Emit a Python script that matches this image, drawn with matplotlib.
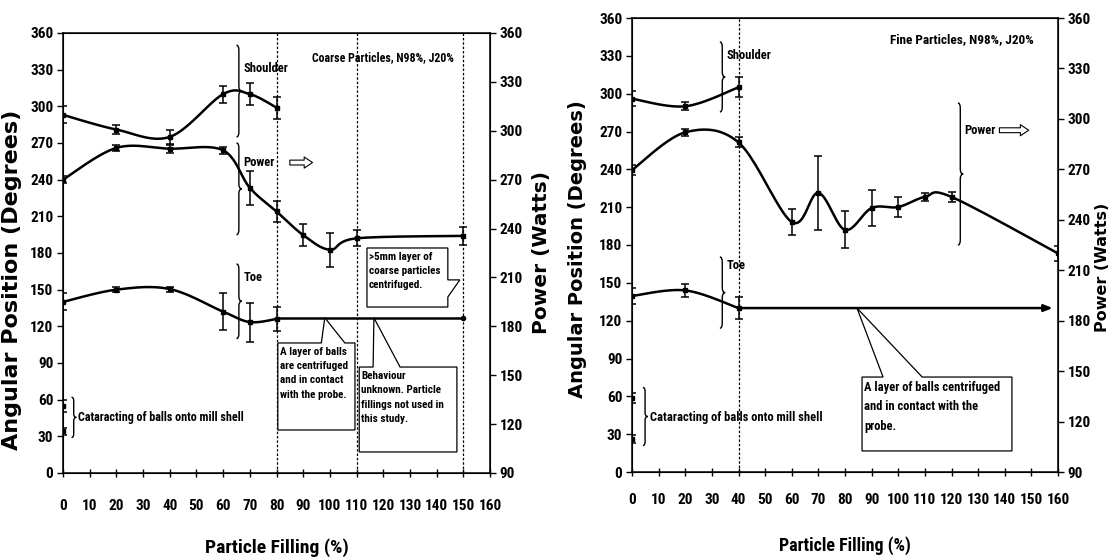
import numpy as np
import matplotlib
matplotlib.use("Agg")
import matplotlib.pyplot as plt
from matplotlib.path import Path
from matplotlib.patches import PathPatch, Polygon

# --- coarse particles (left panel) ---
coarse_sh_x = [0, 20, 40, 60, 70, 80]
coarse_sh_y = [293, 281, 275, 310, 310, 299]
coarse_sh_err = [7, 4, 6, 7, 9, 9]

coarse_pw_x = [0, 20, 40, 60, 70, 80, 90, 100, 110, 150]
coarse_pw_y = [270, 289.5, 289, 288, 265, 250.5, 236, 227, 234, 235.5]   # Watts
coarse_pw_err = [2, 2, 2.5, 2, 10.5, 6.5, 6.5, 10.5, 5, 5.5]

coarse_toe_x = [0, 20, 40, 60, 70, 80]
coarse_toe_y = [140, 150, 150.5, 132, 123.5, 126]
coarse_toe_err = [7, 2, 2, 15, 16, 10]
coarse_layer_x = [80, 150]
coarse_layer_y = [127, 127]

coarse_cat_x = [0, 0]
coarse_cat_y = [55, 34]
coarse_cat_err = [5, 3]

# --- fine particles (right panel) ---
fine_sh_x = [0, 20, 40]
fine_sh_y = [296, 290, 305]
fine_sh_err = [6, 3, 8]

fine_pw_x = [0, 20, 40, 60, 70, 80, 90, 100, 110, 120, 160]
fine_pw_y = [269.6, 292, 286, 238.7, 256, 234, 247, 247.6, 253.6, 253.6, 220]   # Watts
fine_pw_err = [3, 2, 3, 8, 22, 11, 10.5, 6, 2.5, 3, 4.7]

fine_toe_x = [0, 20, 40]
fine_toe_y = [139.6, 144, 130]
fine_toe_err = [6, 5, 9]
fine_layer_x = [40, 158]
fine_layer_y = [130, 130]

fine_cat_x = [0, 0]
fine_cat_y = [58.5, 26]
fine_cat_err = [4, 3]

xticks = np.arange(0, 161, 10)
deg_ticks = np.arange(0, 361, 30)
watt_ticks = np.arange(90, 361, 30)

NARROW = ['Roboto Condensed', 'PT Sans Narrow', 'Liberation Sans']
WIDE = ['DejaVu Sans']


def smooth(x, y, n=24):
    """Excel style smoothed line: Catmull-Rom segments as cubic Beziers."""
    pts = np.column_stack([x, y]).astype(float)
    p = np.vstack([pts[0], pts, pts[-1]])
    segs = []
    t = np.linspace(0, 1, n)[:, None]
    for i in range(1, len(p) - 2):
        p0, p1, p2, p3 = p[i - 1], p[i], p[i + 1], p[i + 2]
        c1 = p1 + (p2 - p0) / 6
        c2 = p2 - (p3 - p1) / 6
        segs.append((1 - t) ** 3 * p1 + 3 * (1 - t) ** 2 * t * c1
                    + 3 * (1 - t) * t ** 2 * c2 + t ** 3 * p2)
    xy = np.vstack(segs)
    return xy[:, 0], xy[:, 1]


def series(ax, x, y, err, line=True):
    if line and len(x) > 1:
        sx, sy = smooth(x, y)
        ax.plot(sx, sy, color='black', lw=1.8, zorder=3)
    ax.errorbar(x, y, yerr=err, fmt='s', ms=3.5, color='black', ecolor='black',
                elinewidth=1.1, capsize=3, capthick=1.1, zorder=4)


def brace(ax, x, y0, y1, w=2.0, c=4.0):
    ym = (y0 + y1) / 2
    xm = x + w * 0.45
    verts = [(x, y1), (xm, y1), (xm, y1 - c), (xm, ym + c), (xm, ym), (x + w, ym),
             (xm, ym), (xm, ym - c), (xm, y0 + c), (xm, y0), (x, y0)]
    codes = [Path.MOVETO, Path.CURVE3, Path.CURVE3, Path.LINETO, Path.CURVE3, Path.CURVE3,
             Path.CURVE3, Path.CURVE3, Path.LINETO, Path.CURVE3, Path.CURVE3]
    ax.add_patch(PathPatch(Path(verts, codes), fill=False, lw=1.0, color='black', zorder=5))


def callout(ax, box, base, apex, side, lines, size, spacing):
    x0, x1, y0, y1 = box
    if side == 'top':
        verts = [(x0, y1), (base[0], y1), apex, (base[1], y1), (x1, y1), (x1, y0), (x0, y0)]
    else:  # right
        verts = [(x0, y1), (x1, y1), (x1, base[0]), apex, (x1, base[1]), (x1, y0), (x0, y0)]
    ax.add_patch(Polygon(verts, closed=True, fc='white', ec='black', lw=0.9, zorder=6))
    ax.text(x0 + 0.8, y1 - 3, "\n".join(lines), ha='left', va='top', fontsize=size,
            family=NARROW, fontweight='bold', linespacing=spacing, zorder=7)


def setup(ax, xpad):
    ax.set_xlim(0, 160)
    ax.set_ylim(0, 360)
    ax.set_xticks(xticks)
    ax.set_yticks(deg_ticks)
    ax.tick_params(axis='x', direction='inout', length=6, width=1, pad=xpad)
    ax.tick_params(axis='y', direction='out', length=4, width=1, pad=3)
    for s in ax.spines.values():
        s.set_linewidth(1.1)
    for lab in ax.get_xticklabels() + ax.get_yticklabels():
        lab.set_family(NARROW)
        lab.set_fontweight('bold')
        lab.set_fontsize(11)
    axp = ax.twinx()
    axp.set_ylim(90, 360)
    axp.set_yticks(watt_ticks)
    axp.tick_params(axis='y', direction='out', length=4, width=1, pad=3)
    for lab in axp.get_yticklabels():
        lab.set_family(NARROW)
        lab.set_fontweight('bold')
        lab.set_fontsize(11)
    return axp


def note(ax, x, y, s, size=9, **kw):
    ax.text(x, y, s, family=NARROW, fontweight='bold', fontsize=size, zorder=7, **kw)


def hollow_arrow(ax, x0, x1, y):
    ax.annotate('', xy=(x1, y), xytext=(x0, y),
                arrowprops=dict(arrowstyle='simple,head_length=0.6,head_width=0.8,tail_width=0.35',
                                fc='white', ec='black', lw=0.8, shrinkA=0, shrinkB=0))


fig = plt.figure(figsize=(11.13, 5.57), dpi=100)

# ---------------- left: coarse particles ----------------
ax1 = fig.add_axes([63 / 1113, 1 - 473 / 557, 427 / 1113, 440 / 557])
ax1p = setup(ax1, 16)

for xv in [80, 110, 150]:
    ax1.axvline(xv, color='black', lw=0.9, ls=(0, (2, 1.5)), zorder=2)

series(ax1, coarse_sh_x, coarse_sh_y, coarse_sh_err)
series(ax1p, coarse_pw_x, coarse_pw_y, coarse_pw_err)
series(ax1, coarse_toe_x, coarse_toe_y, coarse_toe_err)
ax1.plot(coarse_layer_x, coarse_layer_y, color='black', lw=1.8, marker='o', ms=3,
         markevery=[1], zorder=3)
series(ax1, coarse_cat_x, coarse_cat_y, coarse_cat_err, line=False)

brace(ax1, 65, 275, 350)
note(ax1, 67.5, 331, "Shoulder", va='center')
brace(ax1, 65, 195, 270)
note(ax1, 67.5, 254, "Power", va='center')
hollow_arrow(ax1, 85, 93.5, 254)
brace(ax1, 65, 110, 171)
note(ax1, 67.5, 160, "Toe", va='center')
brace(ax1, 3.2, 29, 62, w=1.8, c=3)
note(ax1, 5.6, 45.5, "Cataracting of balls onto mill shell", size=8.7, va='center')
note(ax1, 120, 340, "Coarse Particles, N98%, J20%", size=8.6, ha='center', va='center')

callout(ax1, (113.9, 144.2, 135.8, 184.1), (158, 144), (148.7, 158), 'right',
        [">5mm layer of", "coarse particles", "centrifuged."], 8, 1.55)
callout(ax1, (80.5, 109.4, 35.2, 106.4), (96.8, 105.6), (98.1, 127), 'top',
        ["A layer of balls", "are centrifuged", "and in contact", "with the probe."], 8, 1.55)
callout(ax1, (111, 147.6, 17.2, 86.7), (116.2, 126.3), (116.5, 127), 'top',
        ["Behaviour", "unknown. Particle", "fillings not used in", "this study."], 8, 1.55)

ax1.set_xlabel("Particle Filling (%)", family=NARROW, fontweight='bold', fontsize=14)
ax1.xaxis.set_label_coords(0.5, -0.148)
ax1.set_ylabel("Angular Position (Degrees)", family=WIDE, fontweight='bold', fontsize=16)
ax1.yaxis.set_label_coords(-0.097, 0.44)
ax1p.set_ylabel("Power (Watts)", family=WIDE, fontweight='bold', fontsize=14.5)
ax1p.yaxis.set_label_coords(1.098, 0.5)

# ---------------- right: fine particles ----------------
ax2 = fig.add_axes([632 / 1113, 1 - 472 / 557, 426 / 1113, 454 / 557])
ax2p = setup(ax2, 12)

ax2.axvline(40, color='black', lw=0.9, ls=(0, (2, 1.5)), zorder=2)

series(ax2, fine_sh_x, fine_sh_y, fine_sh_err)
series(ax2p, fine_pw_x, fine_pw_y, fine_pw_err)
series(ax2, fine_toe_x, fine_toe_y, fine_toe_err)
ax2.annotate('', xy=(fine_layer_x[1], fine_layer_y[1]), xytext=(fine_layer_x[0], fine_layer_y[0]),
             arrowprops=dict(arrowstyle='-|>,head_length=0.5,head_width=0.2', color='black',
                             lw=1.8, shrinkA=0, shrinkB=0), zorder=3)
series(ax2, fine_cat_x, fine_cat_y, fine_cat_err, line=False)

brace(ax2, 33, 285.5, 341)
note(ax2, 35.5, 330.5, "Shoulder", va='center')
brace(ax2, 33, 114, 170.5)
note(ax2, 35.5, 164, "Toe", va='center')
brace(ax2, 122.4, 180, 292.6)
note(ax2, 124.8, 271, "Power", va='center')
hollow_arrow(ax2, 138, 149, 271)
brace(ax2, 4.1, 21, 67, w=1.8, c=3)
note(ax2, 6.6, 43, "Cataracting of balls onto mill shell", size=9, va='center')
note(ax2, 124, 342.5, "Fine Particles, N98%, J20%", size=9.5, ha='center', va='center')

callout(ax2, (86.4, 142.7, 16.7, 75.3), (94.3, 109), (84.5, 130), 'top',
        ["A layer of balls centrifuged", "and in contact with the", "probe."], 9, 1.65)

ax2.set_xlabel("Particle Filling (%)", family=NARROW, fontweight='bold', fontsize=13)
ax2.xaxis.set_label_coords(0.5, -0.142)
ax2.set_ylabel("Angular Position (Degrees)", family=WIDE, fontweight='bold', fontsize=14)
ax2.yaxis.set_label_coords(-0.106, 0.49)
ax2p.set_ylabel("Power (Watts)", family=WIDE, fontweight='bold', fontsize=11.5)
ax2p.yaxis.set_label_coords(1.088, 0.45)

fig.savefig("out.png", dpi=100)
